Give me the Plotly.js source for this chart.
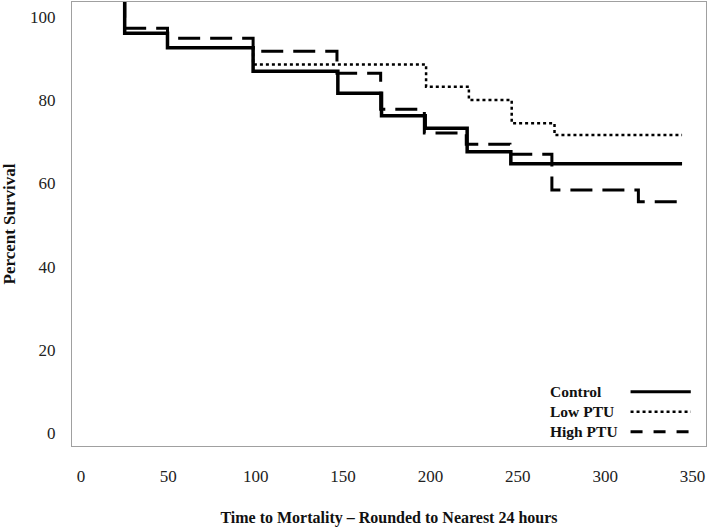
<!DOCTYPE html>
<html>
<head>
<meta charset="utf-8">
<script src="https://cdn.plot.ly/plotly-3.0.1.min.js"></script>
<style>html,body{margin:0;padding:0;background:#fff}#chart{width:710px;height:528px}</style>
</head>
<body>
<div id="chart"></div>
<script>
// Kaplan-Meier style step data (time read against labelled axis, percent survival)
const controlTime = [25, 25, 49.5, 98.5, 147, 172, 197, 221, 246, 344];
const controlSurv = [105, 96.0, 92.5, 86.9, 81.6, 76.2, 73.2, 67.6, 64.7, 64.7];

const lowTime = [25, 25, 49.5, 98.5, 197.5, 222, 246.5, 271, 344];
const lowSurv = [105, 96.0, 92.5, 88.5, 83.2, 80.0, 74.4, 71.6, 71.6];

const highTime = [25, 25, 49.5, 98.5, 146.5, 171.5, 196.5, 220.5, 245.5, 269.5, 319, 344];
const highSurv = [105, 97.2, 94.8, 91.7, 86.4, 77.8, 72.1, 69.4, 67.0, 58.4, 55.6, 55.6];

const seriesNames = ["Control", "Low PTU", "High PTU"];
const xTicks = [0, 50, 100, 150, 200, 250, 300, 350];
const yTicks = [0, 20, 40, 60, 80, 100];

const serif = "Liberation Serif, Times New Roman, serif";

const traces = [
  {x: controlTime, y: controlSurv, name: seriesNames[0], mode: "lines",
   line: {shape: "hv", color: "#000", width: 3.5}},
  {x: lowTime, y: lowSurv, name: seriesNames[1], mode: "lines",
   line: {shape: "hv", color: "#000", width: 2.5, dash: "dot"}},
  {x: highTime, y: highSurv, name: seriesNames[2], mode: "lines",
   line: {shape: "hv", color: "#000", width: 3, dash: "22px,10px"}}
];

const legendY = [0.1223, 0.0773, 0.0322];
const legendDash = ["solid", "dot", "12px,11px"];
const legendWidth = [3, 2.5, 3];
const annotations = seriesNames.map((n, i) => ({
  xref: "paper", yref: "paper", x: 0.751, y: legendY[i], xanchor: "left", yanchor: "middle",
  text: "<b>" + n + "</b>", showarrow: false,
  font: {family: serif, size: 15.5, color: "#111"}
}));
const shapes = seriesNames.map((n, i) => ({
  type: "line", xref: "paper", yref: "paper", x0: 0.881, x1: 0.976, y0: legendY[i], y1: legendY[i],
  line: {color: "#000", width: legendWidth[i], dash: legendDash[i]}
}));

const layout = {
  width: 710, height: 528,
  margin: {l: 72, r: 4, t: 2, b: 82},
  paper_bgcolor: "#fff", plot_bgcolor: "#fff",
  showlegend: false,
  font: {family: serif, size: 17, color: "#222"},
  xaxis: {
    range: [-5.15, 357.7], tickvals: xTicks, ticktext: xTicks.map(String),
    showgrid: false, zeroline: false, showline: true, mirror: true,
    linecolor: "#a0a0a0", linewidth: 1,
    ticks: "outside", ticklen: 15, tickcolor: "rgba(0,0,0,0)",
    tickfont: {family: serif, size: 17, color: "#222"},
    title: {text: "<b>Time to Mortality – Rounded to Nearest 24 hours</b>", standoff: 26,
            font: {family: serif, size: 16, color: "#111"}}
  },
  yaxis: {
    range: [-3.0, 103.5], tickvals: yTicks, ticktext: yTicks.map(String),
    showgrid: false, zeroline: false, showline: true, mirror: true,
    linecolor: "#a0a0a0", linewidth: 1,
    ticks: "outside", ticklen: 12, tickcolor: "rgba(0,0,0,0)",
    tickfont: {family: serif, size: 17, color: "#222"},
    title: {text: "<b>Percent Survival</b>", standoff: 14,
            font: {family: serif, size: 17, color: "#111"}}
  },
  annotations: annotations,
  shapes: shapes
};

Plotly.newPlot("chart", traces, layout, {displayModeBar: false, staticPlot: true});
</script>
</body>
</html>
